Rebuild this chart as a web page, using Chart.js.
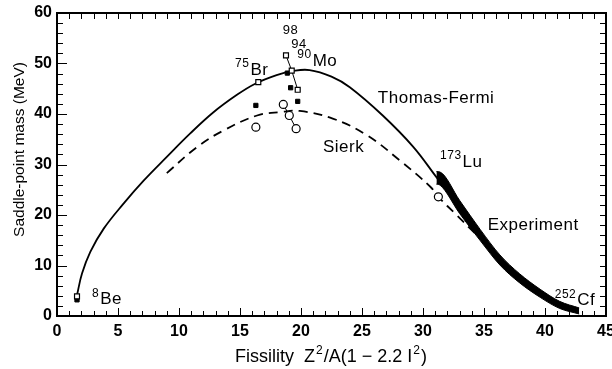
<!DOCTYPE html>
<html>
<head>
<meta charset="utf-8">
<script src="https://cdn.jsdelivr.net/npm/chart.js@4.4.0/dist/chart.umd.min.js"></script>
<style>
  html, body { margin: 0; padding: 0; background: #fff; }
  #wrap { width: 612px; height: 369px; }
</style>
</head>
<body>
<div id="wrap"><canvas id="chart" width="612" height="369"></canvas></div>
<script>
// Thomas-Fermi curve
const tfX = [1.64, 2.05, 2.73, 3.83, 5.47, 7.1, 9.0, 10.9, 12.8, 14.75, 16.25, 18.0, 19.3, 20.7, 22.5, 24.0, 26.7, 29.2, 31.1, 33.0, 34.7, 36.3, 37.9, 39.6, 41.2, 42.7];
const tfY = [4.15, 8.4, 12.7, 17.3, 22.3, 26.8, 31.5, 36.1, 40.3, 43.8, 46.0, 47.7, 48.5, 48.7, 47.4, 45.3, 39.7, 33.5, 27.5, 21.6, 16.0, 11.1, 7.5, 4.5, 2.2, 1.05];

// Sierk curve (dashed)
const sierkX = [9.0, 11.5, 13.7, 16.4, 18.4, 19.9, 22.6, 25.4, 28.1, 30.6, 31.26, 32.75, 34.4, 35.2];
const sierkY = [28.3, 33.5, 36.8, 39.7, 40.4, 40.6, 39.1, 35.8, 30.8, 25.6, 23.6, 20.0, 16.1, 14.6];

// Experiment band (upper / lower edge)
const expX = [31.1, 31.4, 33.0, 34.7, 36.3, 37.9, 39.6, 41.2, 42.8];
const expUpper = [28.6, 28.5, 22.9, 17.1, 12.1, 8.4, 5.3, 2.9, 1.6];
const expLower = [26.1, 25.9, 20.3, 14.9, 10.1, 6.6, 3.7, 1.5, 0.4];

// open squares
const openSqX = [1.64, 16.5];
const openSqY = [3.9, 46.3];
// Mo chain, open squares (98, 94, 90)
const moSqX = [18.77, 19.24, 19.73];
const moSqY = [51.6, 48.6, 44.8];
// filled squares
const fillSqX = [1.64, 16.3, 18.88, 19.15, 19.73];
const fillSqY = [3.2, 41.7, 48.1, 45.2, 42.5];
// open circles
const openCirX = [16.3, 31.26];
const openCirY = [37.4, 23.6];
// Mo chain, open circles
const moCirX = [18.55, 19.04, 19.6];
const moCirY = [41.9, 39.7, 37.1];

const xTicks = [0, 5, 10, 15, 20, 25, 30, 35, 40, 45];
const yTicks = [0, 10, 20, 30, 40, 50, 60];

const FONT = "'Liberation Sans', Arial, Helvetica, sans-serif";

function pts(xs, ys) {
    return xs.map((x, i) => ({ x: x, y: ys[i] }));
}

// text labels on the plot, anchored in data units
const notes = [
    { x: 2.87, y: 2.4, parts: [['8', 1], ['Be', 0]] },
    { x: 14.6, y: 47.8, parts: [['75', 1], ['Br', 0]] },
    { x: 18.5, y: 55.9, parts: [['98', 0]], small: true },
    { x: 19.2, y: 53.1, parts: [['94', 0]], small: true },
    { x: 19.7, y: 49.6, parts: [['90', 1], ['Mo', 0]] },
    { x: 26.3, y: 42.1, parts: [['Thomas-Fermi', 0]] },
    { x: 21.8, y: 32.4, parts: [['Sierk', 0]] },
    { x: 31.4, y: 29.6, parts: [['173', 1], ['Lu', 0]] },
    { x: 35.3, y: 17.0, parts: [['Experiment', 0]] },
    { x: 40.8, y: 2.2, parts: [['252', 1], ['Cf', 0]] }
];

function drawParts(ctx, parts, px, py, size, supSize) {
    parts.forEach(([t, sup]) => {
        ctx.font = (sup ? supSize : size) + 'px ' + FONT;
        ctx.fillText(t, px, sup ? py - size * 0.42 : py);
        px += ctx.measureText(t).width + 1;
    });
}

function partsWidth(ctx, parts, size, supSize) {
    let w = 0;
    parts.forEach(([t, sup]) => {
        ctx.font = (sup ? supSize : size) + 'px ' + FONT;
        w += ctx.measureText(t).width + 1;
    });
    return w;
}

const frame = {
    id: 'frame',
    afterDraw(chart) {
        const ctx = chart.ctx;
        const a = chart.chartArea;
        const xs = chart.scales.x, ys = chart.scales.y;
        ctx.save();
        ctx.fillStyle = '#000';
        // box
        const L = Math.round(a.left), R = Math.round(a.right), T = Math.round(a.top), B = Math.round(a.bottom);
        ctx.fillRect(L - 1, T - 1, R - L + 2, 2);
        ctx.fillRect(L - 1, B - 1, R - L + 2, 2);
        ctx.fillRect(L - 1, T - 1, 2, B - T + 2);
        ctx.fillRect(R - 1, T - 1, 2, B - T + 2);
        // inward ticks
        for (let v = 0; v <= 45; v++) {
            const p = Math.round(xs.getPixelForValue(v));
            const len = v % 5 === 0 ? 8 : 5;
            ctx.fillRect(p, B - len, 1, len);
            ctx.fillRect(p, T, 1, 6);
        }
        for (let v = 0; v <= 60; v += 2) {
            const p = Math.round(ys.getPixelForValue(v));
            const len = v % 10 === 0 ? 10 : 6;
            ctx.fillRect(L, p, len, 1);
            ctx.fillRect(R - 6, p, 6, 1);
        }

        ctx.textBaseline = 'alphabetic';
        ctx.textAlign = 'left';
        ctx.letterSpacing = '0.5px';
        notes.forEach(n => {
            drawParts(ctx, n.parts, xs.getPixelForValue(n.x), ys.getPixelForValue(n.y), n.small ? 13 : 17, 12);
        });
        ctx.letterSpacing = '0px';

        // x axis title
        const xt = [['Fissility  Z', 0], ['2', 1], ['/A(1 \u2212 2.2 I', 0], ['2', 1], [')', 0]];
        const w = partsWidth(ctx, xt, 18, 12);
        drawParts(ctx, xt, (a.left + a.right) / 2 - w / 2, 362, 18, 12);

        // y axis title
        ctx.translate(20, (a.top + a.bottom) / 2 - 15);
        ctx.rotate(-Math.PI / 2);
        ctx.font = '15.5px ' + FONT;
        ctx.textAlign = 'center';
        ctx.textBaseline = 'middle';
        ctx.fillText('Saddle-point mass (MeV)', 0, 0);
        ctx.restore();
    }
};

new Chart(document.getElementById('chart'), {
    type: 'scatter',
    data: {
        datasets: [
            {
                data: pts(moSqX, moSqY), showLine: true, borderColor: '#000', borderWidth: 1,
                pointStyle: 'rect', pointRadius: 3.5, pointBackgroundColor: '#fff', pointBorderColor: '#000', pointBorderWidth: 1.2, order: 1
            },
            {
                data: pts(openSqX, openSqY),
                pointStyle: 'rect', pointRadius: 3.5, pointBackgroundColor: '#fff', pointBorderColor: '#000', pointBorderWidth: 1.2, order: 1
            },
            {
                data: pts(fillSqX, fillSqY),
                pointStyle: 'rect', pointRadius: 3, pointBackgroundColor: '#000', pointBorderColor: '#000', order: 2
            },
            {
                data: pts(moCirX, moCirY), showLine: true, borderColor: '#000', borderWidth: 1,
                pointStyle: 'circle', pointRadius: 4, pointBackgroundColor: '#fff', pointBorderColor: '#000', pointBorderWidth: 1.2, order: 1
            },
            {
                data: pts(openCirX, openCirY),
                pointStyle: 'circle', pointRadius: 4, pointBackgroundColor: '#fff', pointBorderColor: '#000', pointBorderWidth: 1.2, order: 1
            },
            {
                data: pts(tfX, tfY), showLine: true, borderColor: '#000', borderWidth: 1.8,
                pointRadius: 0, tension: 0.4, order: 3
            },
            {
                data: pts(sierkX, sierkY), showLine: true, borderColor: '#000', borderWidth: 1.8,
                borderDash: [9, 6], pointRadius: 0, tension: 0.4, order: 4
            },
            {
                data: pts(expX, expUpper), showLine: true, borderColor: '#000', borderWidth: 1,
                pointRadius: 0, cubicInterpolationMode: 'monotone', fill: '+1', backgroundColor: '#000', order: 5
            },
            {
                data: pts(expX, expLower), showLine: true, borderColor: '#000', borderWidth: 1,
                pointRadius: 0, cubicInterpolationMode: 'monotone', order: 5
            }
        ]
    },
    options: {
        responsive: false,
        animation: false,
        layout: { padding: { top: 13, right: 6, left: 0, bottom: 0 } },
        plugins: { legend: { display: false }, tooltip: { enabled: false } },
        scales: {
            x: {
                type: 'linear', min: 0, max: 45,
                afterBuildTicks: s => { s.ticks = xTicks.map(v => ({ value: v })); },
                afterFit: s => { s.height = 53; s.paddingLeft = 0; s.paddingRight = 0; },
                grid: { display: false, drawTicks: false },
                border: { display: false },
                ticks: { color: '#000', padding: 6, font: { family: FONT, size: 16, weight: 'bold' } },
                title: { display: false }
            },
            y: {
                type: 'linear', min: 0, max: 60,
                afterBuildTicks: s => { s.ticks = yTicks.map(v => ({ value: v })); },
                afterFit: s => { s.width = 57; s.paddingTop = 0; s.paddingBottom = 0; },
                grid: { display: false, drawTicks: false },
                border: { display: false },
                ticks: { color: '#000', padding: 5, font: { family: FONT, size: 16, weight: 'bold' } },
                title: { display: false }
            }
        }
    },
    plugins: [frame]
});
</script>
</body>
</html>
